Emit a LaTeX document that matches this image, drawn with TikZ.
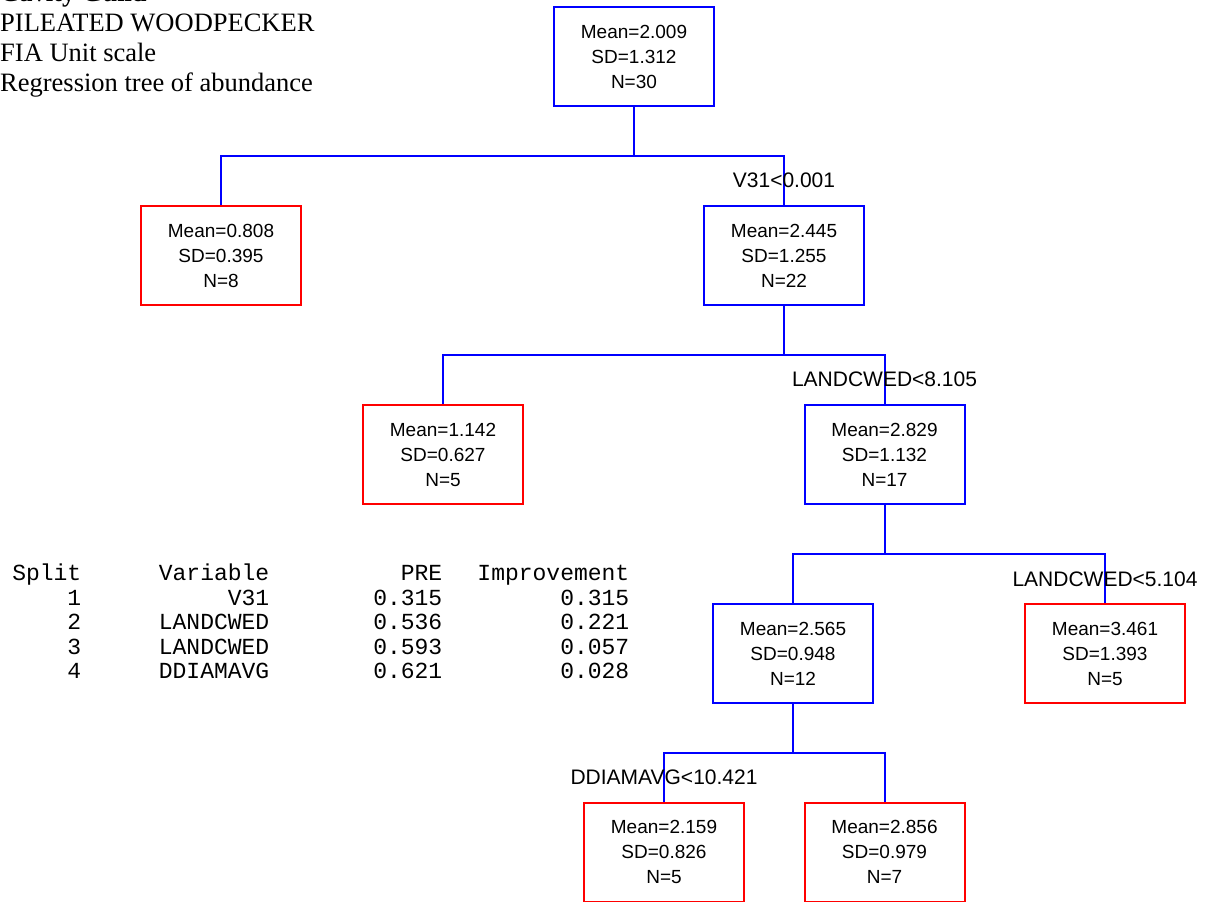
\documentclass[tikz,border=0pt]{standalone}
\usepackage{fontspec}
\setmainfont{Liberation Sans}
\newfontfamily\titlefont{Liberation Serif}
\newfontfamily\tablefont{Liberation Mono}

\definecolor{splitblue}{RGB}{0,0,255}
\definecolor{leafred}{RGB}{255,0,0}

\begin{document}
\begin{tikzpicture}[x=1pt,y=-1pt,
  treebox/.style={draw, line width=2pt, minimum width=160pt, minimum height=99pt,
    inner sep=0pt, align=center, font=\fontsize{19}{25}\selectfont},
  splitnode/.style={treebox, draw=splitblue},
  leafnode/.style={treebox, draw=leafred},
  conn/.style={draw=splitblue, line width=2pt},
  splitlabel/.style={anchor=base, inner sep=0pt, font=\fontsize{21}{25}\selectfont},
  titleline/.style={anchor=base west, inner sep=0pt, font=\titlefont\fontsize{26.5}{30}\selectfont},
  tabcell/.style={anchor=base east, inner sep=0pt, font=\tablefont\fontsize{23}{24.5}\selectfont}]

\useasboundingbox (0,0) rectangle (1205,902);
\clip (0,0) rectangle (1205,902);

% heading
\node[titleline, font=\titlefont\bfseries\fontsize{26.5}{30}\selectfont] (h0) at (0,1.7) {Cavity Guild};
\node[titleline] (h1) at (0,31.7) {PILEATED WOODPECKER};
\node[titleline] (h2) at (0,61.7) {FIA Unit scale};
\node[titleline] (h3) at (0,91.7) {Regression tree of abundance};

% tree nodes
\node[splitnode] (root) at (634,56.5) {Mean=2.009\\SD=1.312\\N=30};
\node[leafnode]  (n8)   at (221,255.5) {Mean=0.808\\SD=0.395\\N=8};
\node[splitnode] (n22)  at (784,255.5) {Mean=2.445\\SD=1.255\\N=22};
\node[leafnode]  (n5a)  at (443,454.5) {Mean=1.142\\SD=0.627\\N=5};
\node[splitnode] (n17)  at (884.5,454.5) {Mean=2.829\\SD=1.132\\N=17};
\node[splitnode] (n12)  at (793,653.5) {Mean=2.565\\SD=0.948\\N=12};
\node[leafnode]  (n5b)  at (1105,653.5) {Mean=3.461\\SD=1.393\\N=5};
\node[leafnode]  (n5c)  at (664,852) {Mean=2.159\\SD=0.826\\N=5};
\node[leafnode]  (n7)   at (884.5,852) {Mean=2.856\\SD=0.979\\N=7};

% split bars
\coordinate (b1) at (634,156);
\coordinate (b2) at (784,355);
\coordinate (b3) at (884.5,554);
\coordinate (b4) at (793,753);

\draw[conn] (root.south) -- (b1);
\draw[conn] (n8.north) |- (b1) -| (n22.north);
\draw[conn] (n22.south) -- (b2);
\draw[conn] (n5a.north) |- (b2) -| (n17.north);
\draw[conn] (n17.south) -- (b3);
\draw[conn] (n12.north) |- (b3) -| (n5b.north);
\draw[conn] (n12.south) -- (b4);
\draw[conn] (n5c.north) |- (b4) -| (n7.north);

% split rules
\node[splitlabel] (s1) at ([yshift=17.5pt]n22.north) {V31<0.001};
\node[splitlabel] (s2) at ([yshift=17.5pt]n17.north) {LANDCWED<8.105};
\node[splitlabel] (s3) at ([yshift=16.5pt]n5b.north) {LANDCWED<5.104};
\node[splitlabel] (s4) at ([yshift=17pt]n5c.north) {DDIAMAVG<10.421};

% split summary table
\foreach \ca/\cb/\cc/\cd [count=\i from 0] in
  {Split/Variable/PRE/Improvement,
   1/V31/0.315/0.315,
   2/LANDCWED/0.536/0.221,
   3/LANDCWED/0.593/0.057,
   4/DDIAMAVG/0.621/0.028}{
  \node[tabcell] (tab\i a) at (81.5,{580.7+24.5*\i}) {\ca};
  \node[tabcell] (tab\i b) at (269.5,{580.7+24.5*\i}) {\cb};
  \node[tabcell] (tab\i c) at (442.5,{580.7+24.5*\i}) {\cc};
  \node[tabcell] (tab\i d) at (629.5,{580.7+24.5*\i}) {\cd};
}
\end{tikzpicture}
\end{document}
